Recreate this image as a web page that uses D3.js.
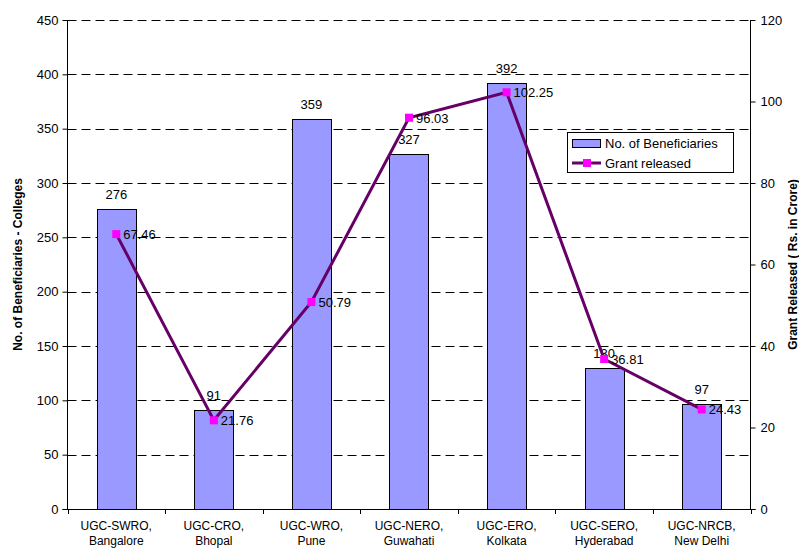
<!DOCTYPE html>
<html><head><meta charset="utf-8">
<script src="https://cdn.jsdelivr.net/npm/d3@7"></script>
<style>body{margin:0;background:#fff}svg{display:block;font-family:"Liberation Sans",Arial,sans-serif}</style>
</head><body>
<svg id="c" width="799" height="548"></svg>
<script>
const categories = [["UGC-SWRO,","Bangalore"],["UGC-CRO,","Bhopal"],["UGC-WRO,","Pune"],["UGC-NERO,","Guwahati"],["UGC-ERO,","Kolkata"],["UGC-SERO,","Hyderabad"],["UGC-NRCB,","New Delhi"]];
const beneficiaries = [276, 91, 359, 327, 392, 130, 97];
const grant = [67.46, 21.76, 50.79, 96.03, 102.25, 36.81, 24.43];
const leftTicks = [0,50,100,150,200,250,300,350,400,450];
const rightTicks = [0,20,40,60,80,100,120];

const svg = d3.select("#c");
const L = 67.5, R = 750.5, T = 20, B = 509;
const x = d3.scaleBand().domain(d3.range(categories.length)).range([L, R]).paddingInner(0.6).paddingOuter(0.3);
const yL = d3.scaleLinear().domain([0,450]).range([B,T]);
const yR = d3.scaleLinear().domain([0,120]).range([B,T]);

// gridlines
svg.append("g").selectAll("line").data(leftTicks.filter(d=>d>0)).join("line")
  .attr("x1",L).attr("x2",R).attr("y1",d=>Math.round(yL(d))+0.5).attr("y2",d=>Math.round(yL(d))+0.5)
  .attr("stroke","#000").attr("stroke-width",1).attr("stroke-dasharray","9,5");

// bars
svg.append("g").selectAll("rect").data(beneficiaries).join("rect")
  .attr("x",(d,i)=>Math.round(x(i))+0.5).attr("y",d=>Math.round(yL(d))+0.5)
  .attr("width",Math.round(x.bandwidth())).attr("height",d=>Math.round(B-yL(d)))
  .attr("fill","#9999FF").attr("stroke","#000").attr("stroke-width",1);

// bar labels
svg.append("g").selectAll("text").data(beneficiaries).join("text")
  .attr("x",(d,i)=>x(i)+x.bandwidth()/2).attr("y",d=>yL(d)-10)
  .attr("text-anchor","middle").attr("font-size",13).text(d=>d);

// left axis
const axL = svg.append("g").attr("transform",`translate(${L},0)`)
  .call(d3.axisLeft(yL).tickValues(leftTicks).tickSize(5).tickPadding(4).tickFormat(d3.format("d")));
axL.select(".domain").attr("d",`M0,${T}V${B}`);
axL.selectAll("text").attr("font-size",13).attr("font-family","Liberation Sans, Arial, sans-serif").attr("fill","#000");

// right axis
const axR = svg.append("g").attr("transform",`translate(${R},0)`)
  .call(d3.axisRight(yR).tickValues(rightTicks).tickSize(5).tickPadding(5));
axR.select(".domain").attr("d",`M0,${T}V${B}`);
axR.selectAll("text").attr("font-size",13).attr("font-family","Liberation Sans, Arial, sans-serif").attr("fill","#000");

// bottom axis
svg.append("line").attr("x1",L-5).attr("x2",R+5).attr("y1",B+0.5).attr("y2",B+0.5).attr("stroke","#000");
const bounds = d3.range(categories.length+1).map(i=>L+i*(R-L)/categories.length);
svg.append("g").selectAll("line").data(bounds).join("line")
  .attr("x1",d=>Math.round(d)+0.5).attr("x2",d=>Math.round(d)+0.5).attr("y1",B).attr("y2",B+5).attr("stroke","#000");
const xl = svg.append("g").selectAll("text").data(categories).join("text")
  .attr("x",(d,i)=>x(i)+x.bandwidth()/2).attr("y",530).attr("text-anchor","middle").attr("font-size",12);
xl.append("tspan").text(d=>d[0]);
xl.append("tspan").attr("x",(d,i)=>x(i)+x.bandwidth()/2).attr("dy",15).text(d=>d[1]);

// line
const line = d3.line().x((d,i)=>x(i)+x.bandwidth()/2).y(d=>yR(d));
svg.append("path").datum(grant).attr("d",line).attr("fill","none").attr("stroke","#660066").attr("stroke-width",3);
svg.append("g").selectAll("rect").data(grant).join("rect")
  .attr("x",(d,i)=>x(i)+x.bandwidth()/2-4).attr("y",d=>yR(d)-4).attr("width",8).attr("height",8).attr("fill","#FF00FF");
svg.append("g").selectAll("text").data(grant).join("text")
  .attr("x",(d,i)=>x(i)+x.bandwidth()/2+7).attr("y",d=>yR(d)+5).attr("font-size",13).text(d=>d3.format(".2f")(d));

// axis titles
svg.append("text").attr("transform",`translate(22,${(T+B)/2}) rotate(-90)`).attr("text-anchor","middle")
  .attr("font-size",12).attr("font-weight","bold").text("No. of Beneficiaries - Colleges");
svg.append("text").attr("transform",`translate(797,${(T+B)/2}) rotate(-90)`).attr("text-anchor","middle")
  .attr("font-size",12).attr("font-weight","bold").text("Grant Released ( Rs. in Crore)");

// legend
const lg = svg.append("g");
lg.append("rect").attr("x",567.5).attr("y",132.5).attr("width",166).attr("height",40).attr("fill","#fff").attr("stroke","#000");
lg.append("rect").attr("x",572.5).attr("y",139.5).attr("width",28).attr("height",8).attr("fill","#9999FF").attr("stroke","#000");
lg.append("text").attr("x",605).attr("y",148).attr("font-size",13).text("No. of Beneficiaries");
lg.append("line").attr("x1",572).attr("x2",601).attr("y1",163).attr("y2",163).attr("stroke","#660066").attr("stroke-width",3);
lg.append("rect").attr("x",583).attr("y",159).attr("width",8).attr("height",8).attr("fill","#FF00FF");
lg.append("text").attr("x",605).attr("y",168).attr("font-size",13).text("Grant released");
</script>
</body></html>
